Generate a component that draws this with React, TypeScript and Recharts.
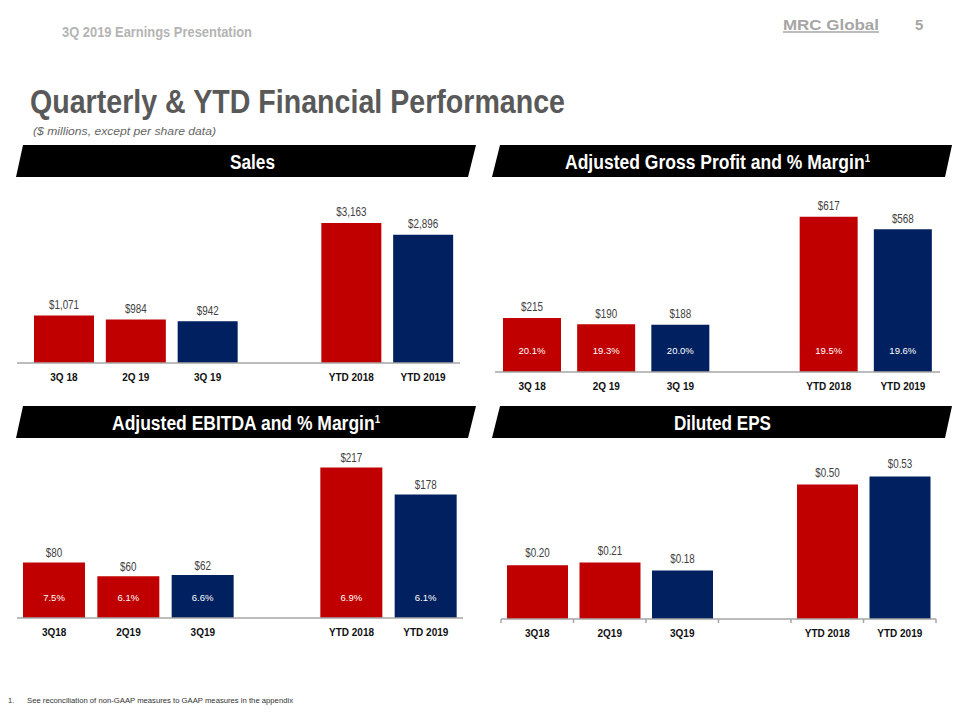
import React from 'react';
import { BarChart, Bar, XAxis, YAxis, Cell, LabelList } from 'recharts';

const RED = '#C00000';
const NAVY = '#002060';
const AXIS_GREY = '#a6a6a6';
const ARIAL = "'Liberation Sans', Arial, sans-serif";
// Arial Narrow is not installed: squeeze Liberation Sans horizontally instead
const NARROW_SCALE = 0.82;

// categories -- the blank slot separates the quarters from the YTD bars
const spacedCats = ['3Q 18', '2Q 19', '3Q 19', '', 'YTD 2018', 'YTD 2019'];
const compactCats = ['3Q18', '2Q19', '3Q19', '', 'YTD 2018', 'YTD 2019'];
const barColors = [RED, RED, NAVY, 'none', RED, NAVY];

const salesValues = [1071, 984, 942, null, 3163, 2896];
const grossProfitValues = [215, 190, 188, null, 617, 568];
const grossMarginPct = [20.1, 19.3, 20.0, null, 19.5, 19.6];
const ebitdaValues = [80, 60, 62, null, 217, 178];
const ebitdaMarginPct = [7.5, 6.1, 6.6, null, 6.9, 6.1];
const epsValues = [0.2, 0.21, 0.18, null, 0.5, 0.53];

const makeRows = (cats: string[], values: (number | null)[], pct?: (number | null)[]) =>
  cats.map((name, i) => ({ name, value: values[i], pct: pct ? pct[i] : null }));

const salesRows = makeRows(spacedCats, salesValues);
const grossRows = makeRows(spacedCats, grossProfitValues, grossMarginPct);
const ebitdaRows = makeRows(compactCats, ebitdaValues, ebitdaMarginPct);
const epsRows = makeRows(compactCats, epsValues);

const fmtMillions = (v: number) => '$' + v.toLocaleString('en-US');
const fmtEps = (v: number) => '$' + v.toFixed(2);

type PanelProps = {
  rows: any[];
  left: number;
  top: number;
  width: number;
  height: number;
  axisY: number;
  plotTop: number;
  plotLeft: number;
  plotRight: number;
  padLeft?: number;
  padRight?: number;
  domainMax: number;
  barSize: number;
  labelGap: number;
  pctRise?: number;
  valueFmt: (v: number) => string;
  boundaryTicks?: boolean;
};

function PanelChart(p: PanelProps) {
  const xh = 26;
  const margin = {
    top: p.plotTop - p.top,
    left: p.plotLeft - p.left,
    right: p.left + p.width - p.plotRight,
    bottom: p.top + p.height - p.axisY - xh,
  };
  const bw = (p.plotRight - p.plotLeft - (p.padLeft || 0) - (p.padRight || 0)) / p.rows.length;
  const hasPct = p.rows.some((r) => r.pct != null);

  const renderTick = (tp: any) => {
    const { x, y, payload, index } = tp;
    return (
      <g>
        {p.boundaryTicks && (
          <line x1={x - bw / 2} x2={x - bw / 2} y1={y} y2={y + 4} stroke={AXIS_GREY} strokeWidth={1.5} />
        )}
        {p.boundaryTicks && index === p.rows.length - 1 && (
          <line x1={x + bw / 2} x2={x + bw / 2} y1={y} y2={y + 4} stroke={AXIS_GREY} strokeWidth={1.5} />
        )}
        <text x={x} y={y + 18} textAnchor="middle" fontFamily={ARIAL} fontWeight="bold" fontSize={10} fill="#111">
          {payload.value}
        </text>
      </g>
    );
  };

  const renderValue = (lp: any) => {
    const { x, y, width, value } = lp;
    if (value == null) return null;
    const cx = Number(x) + Number(width) / 2;
    const by = Number(y) - p.labelGap;
    return (
      <text
        transform={`translate(${cx},${by}) scale(${NARROW_SCALE},1)`}
        x={0}
        y={0}
        textAnchor="middle"
        fontFamily={ARIAL}
        fontSize={12}
        fill="#404040"
      >
        {p.valueFmt(Number(value))}
      </text>
    );
  };

  const renderPct = (lp: any) => {
    const { x, y, width, height, value } = lp;
    if (value == null) return null;
    return (
      <text
        x={Number(x) + Number(width) / 2}
        y={Number(y) + Number(height) - (p.pctRise || 18)}
        textAnchor="middle"
        fontFamily={ARIAL}
        fontSize={9.5}
        fill="#ffffff"
      >
        {Number(value).toFixed(1) + '%'}
      </text>
    );
  };

  return (
    <div style={{ position: 'absolute', left: p.left, top: p.top }}>
      <BarChart width={p.width} height={p.height} data={p.rows} margin={margin}>
        <XAxis
          dataKey="name"
          height={xh}
          interval={0}
          axisLine={{ stroke: AXIS_GREY, strokeWidth: 1.5 }}
          tickLine={false}
          tickSize={0}
          tickMargin={0}
          padding={{ left: p.padLeft || 0, right: p.padRight || 0 }}
          tick={renderTick}
        />
        <YAxis hide domain={[0, p.domainMax]} />
        <Bar dataKey="value" barSize={p.barSize} isAnimationActive={false}>
          {p.rows.map((r, i) => (
            <Cell key={i} fill={barColors[i]} />
          ))}
          <LabelList dataKey="value" content={renderValue} />
          {hasPct && <LabelList dataKey="pct" content={renderPct} />}
        </Bar>
      </BarChart>
    </div>
  );
}

function Backdrop() {
  const headFont = { fontFamily: ARIAL, fontWeight: 'bold' as const };
  return (
    <svg width={960} height={720} style={{ position: 'absolute', left: 0, top: 0 }}>
      <rect width={960} height={720} fill="#ffffff" />
      <text x={62} y={37} {...headFont} fontSize={14.5} fill="#b4b4b4" textLength={190} lengthAdjust="spacingAndGlyphs">
        3Q 2019 Earnings Presentation
      </text>
      <text x={783} y={30} {...headFont} fontSize={15} fill="#a6a6a6" textLength={96} lengthAdjust="spacingAndGlyphs">
        MRC Global
      </text>
      <line x1={783} x2={879} y1={32} y2={32} stroke="#a6a6a6" strokeWidth={1.5} />
      <text x={915} y={30} {...headFont} fontSize={15} fill="#a6a6a6">5</text>

      <text x={30} y={113} {...headFont} fontSize={33} fill="#595959" textLength={535} lengthAdjust="spacingAndGlyphs">
        Quarterly &amp; YTD Financial Performance
      </text>
      <text x={33} y={135} fontFamily={ARIAL} fontStyle="italic" fontSize={11} fill="#666666" textLength={183} lengthAdjust="spacingAndGlyphs">
        ($ millions, except per share data)
      </text>

      <polygon points="23,145 476,145 468,177 16,177" fill="#000" />
      <polygon points="500,145 952,145 945,177 492,177" fill="#000" />
      <polygon points="23,406 476,406 468,438 16,438" fill="#000" />
      <polygon points="500,406 952,406 945,438 492,438" fill="#000" />

      <text x={230} y={169} {...headFont} fontSize={20} fill="#fff" textLength={45} lengthAdjust="spacingAndGlyphs">Sales</text>
      <text x={565} y={169} {...headFont} fontSize={20} fill="#fff" textLength={305} lengthAdjust="spacingAndGlyphs">
        Adjusted Gross Profit and % Margin
        <tspan fontSize={11} dy={-7}>1</tspan>
      </text>
      <text x={112} y={430} {...headFont} fontSize={20} fill="#fff" textLength={268} lengthAdjust="spacingAndGlyphs">
        Adjusted EBITDA  and % Margin
        <tspan fontSize={11} dy={-7}>1</tspan>
      </text>
      <text x={674} y={430} {...headFont} fontSize={20} fill="#fff" textLength={97} lengthAdjust="spacingAndGlyphs">Diluted EPS</text>

      <text x={8} y={703} fontFamily={ARIAL} fontSize={7.5} fill="#333">1.</text>
      <text x={27} y={703} fontFamily={ARIAL} fontSize={7.5} fill="#333" textLength={266} lengthAdjust="spacingAndGlyphs">
        See reconciliation of non-GAAP measures to GAAP measures in the appendix
      </text>
    </svg>
  );
}

export default function App() {
  return (
    <div style={{ position: 'absolute', left: 0, top: 0, width: 960, height: 720, overflow: 'hidden', background: '#fff' }}>
      <Backdrop />
      <PanelChart
        rows={salesRows}
        left={0}
        top={180}
        width={480}
        height={220}
        axisY={363}
        plotTop={208}
        plotLeft={17}
        plotRight={460}
        padLeft={11}
        padRight={1}
        domainMax={3500}
        barSize={60}
        labelGap={6.5}
        valueFmt={fmtMillions}
      />
      <PanelChart
        rows={grossRows}
        left={480}
        top={180}
        width={480}
        height={220}
        axisY={372}
        plotTop={196}
        plotLeft={495}
        plotRight={940}
        domainMax={700}
        barSize={58}
        labelGap={6.5}
        pctRise={18.5}
        valueFmt={fmtMillions}
      />
      <PanelChart
        rows={ebitdaRows}
        left={0}
        top={441}
        width={480}
        height={220}
        axisY={618}
        plotTop={444.5}
        plotLeft={17}
        plotRight={463}
        domainMax={250}
        barSize={62}
        labelGap={5}
        pctRise={16.7}
        valueFmt={fmtMillions}
      />
      <PanelChart
        rows={epsRows}
        left={480}
        top={441}
        width={480}
        height={220}
        axisY={619}
        plotTop={457.6}
        plotLeft={501}
        plotRight={936}
        domainMax={0.6}
        barSize={61}
        labelGap={8}
        valueFmt={fmtEps}
        boundaryTicks
      />
    </div>
  );
}
